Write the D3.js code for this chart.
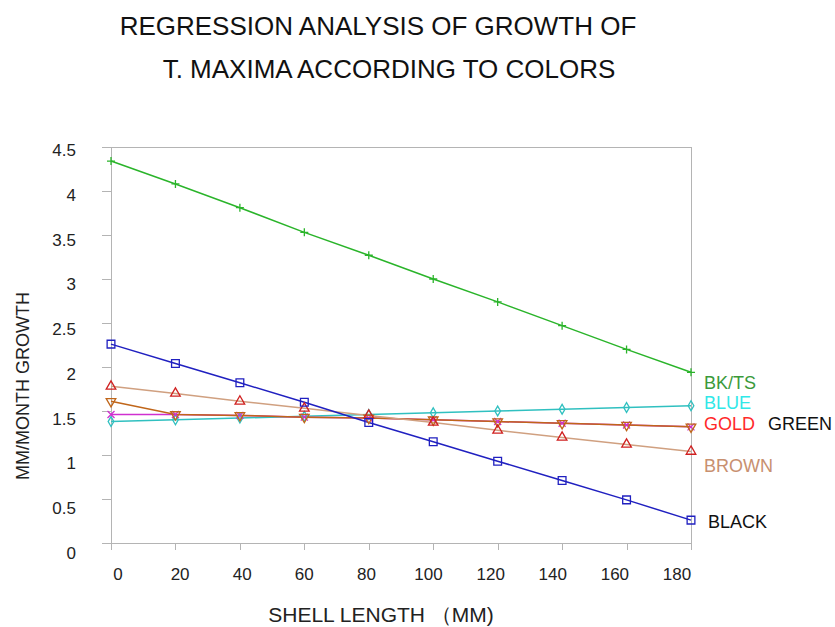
<!DOCTYPE html>
<html lang="en">
<head>
<meta charset="UTF-8">
<title>Regression analysis</title>
<style>
body { margin: 0; background: #fff; }
text { font-family: "Liberation Sans", Arial, sans-serif; }
.frame line, .axis path, .axis line { stroke: #b4b4b4; fill: none; shape-rendering: crispEdges; }
.tick-label { font-size: 17px; fill: #222; }
</style>
</head>
<body>
<script src="https://cdn.jsdelivr.net/npm/d3@7"></script>
<script>
// shell length (mm)
var xValues = [0, 20, 40, 60, 80, 100, 120, 140, 160, 180];
// mm/month growth
var bktsVals  = [4.34, 4.08, 3.81, 3.53, 3.27, 3.00, 2.74, 2.47, 2.20, 1.94];
var blueVals  = [1.38, 1.40, 1.42, 1.44, 1.46, 1.48, 1.50, 1.52, 1.54, 1.56];
var goldVals  = [1.61, 1.46, 1.45, 1.43, 1.42, 1.40, 1.38, 1.36, 1.34, 1.32];
var greenVals = [1.46, 1.46, 1.45, 1.43, 1.42, 1.40, 1.38, 1.36, 1.34, 1.32];
var brownVals = [1.78, 1.70, 1.61, 1.53, 1.45, 1.37, 1.28, 1.20, 1.12, 1.04];
var blackVals = [2.26, 2.04, 1.82, 1.60, 1.37, 1.15, 0.93, 0.71, 0.49, 0.26];

var yTicks = [0, 0.5, 1, 1.5, 2, 2.5, 3, 3.5, 4, 4.5];
var xTicks = [0, 20, 40, 60, 80, 100, 120, 140, 160, 180];

var legendNames = ["BK/TS", "BLUE", "GOLD", "GREEN", "BROWN", "BLACK"];
var legendAt    = [1.82, 1.59, 1.35, 1.35, 0.88, 0.24];

var W = 835, H = 627;
var pLeft = 111, pRight = 691, pTop = 147, pBottom = 543;

var svg = d3.select("body").append("svg").attr("width", W).attr("height", H);

var x = d3.scaleLinear().domain([0, 180]).range([pLeft, pRight]);
var y = d3.scaleLinear().domain([0, 4.5]).range([pBottom, pTop]);
// tick labels sit a little off the ticks in the original
var xLab = d3.scaleLinear().domain([0, 180]).range([118, 677]);
var yLab = d3.scaleLinear().domain([0, 4.5]).range([553, 150]);

// title
svg.append("text").attr("x", 378).attr("y", 35).attr("text-anchor", "middle")
  .style("font-size", "26px").attr("fill", "#111").text("REGRESSION ANALYSIS OF GROWTH OF");
svg.append("text").attr("x", 389).attr("y", 78).attr("text-anchor", "middle")
  .style("font-size", "26px").attr("fill", "#111").text("T. MAXIMA ACCORDING TO COLORS");

// frame
var frame = svg.append("g").attr("class", "frame");
frame.append("line").attr("x1", pLeft - 9).attr("x2", pRight).attr("y1", pTop).attr("y2", pTop);
frame.append("line").attr("x1", pRight).attr("x2", pRight).attr("y1", pTop).attr("y2", pBottom);

// axes
svg.append("g").attr("class", "axis")
  .attr("transform", "translate(" + pLeft + ",0)")
  .call(d3.axisLeft(y).tickValues(yTicks).tickSize(9).tickSizeOuter(0).tickFormat(""));
svg.append("g").attr("class", "axis")
  .attr("transform", "translate(0," + pBottom + ")")
  .call(d3.axisBottom(x).tickValues(xTicks).tickSize(7).tickSizeOuter(0).tickFormat(""));
frame.append("line").attr("x1", pLeft - 9).attr("x2", pLeft).attr("y1", pBottom).attr("y2", pBottom);

svg.selectAll(".ylab").data(yTicks).enter().append("text")
  .attr("class", "tick-label").attr("text-anchor", "end")
  .attr("x", 76).attr("y", function(d) { return yLab(d) + 6; })
  .text(function(d) { return d; });
svg.selectAll(".xlab").data(xTicks).enter().append("text")
  .attr("class", "tick-label").attr("text-anchor", "middle")
  .attr("x", function(d) { return xLab(d); }).attr("y", 580)
  .text(function(d) { return d; });

// axis titles
svg.append("text").attr("transform", "translate(29,386) rotate(-90)")
  .attr("text-anchor", "middle").style("font-size", "18px").attr("fill", "#222")
  .text("MM/MONTH GROWTH");
svg.append("text").attr("x", 381).attr("y", 622).attr("text-anchor", "middle")
  .style("font-size", "21px").attr("fill", "#222").text("SHELL LENGTH \uFF08MM)");

// series
var series = [
  { vals: blueVals,  line: "#30c0c0", mark: "#30c0c0", sym: d3.symbolDiamond, size: 28 },
  { vals: greenVals, line: "#d030d0", mark: "#d030d0", sym: d3.symbolCross,   size: 22 },
  { vals: goldVals,  line: "#c0661a", mark: "#c0661a", sym: d3.symbolTriangle, size: 40, rot: 180 },
  { vals: brownVals, line: "#d0a080", mark: "#d02020", sym: d3.symbolTriangle, size: 40 },
  { vals: blackVals, line: "#2020c0", mark: "#2020c0", sym: d3.symbolSquare, size: 60 },
  { vals: bktsVals,  line: "#2ab42a", mark: "#2ab42a", sym: d3.symbolCross,   size: 30, plus: true }
];

var line = d3.line()
  .x(function(d, i) { return x(xValues[i]); })
  .y(function(d) { return y(d); });

series.forEach(function(s) {
  svg.append("path").attr("d", line(s.vals))
    .attr("fill", "none").attr("stroke", s.line).attr("stroke-width", 1.5);
});
series.forEach(function(s) {
  var g = svg.append("g");
  var shape;
  if (s.plus) shape = "M-4,0H4M0,-4V4";
  else if (s.sym === d3.symbolCross) shape = "M-3.5,-3.5L3.5,3.5M-3.5,3.5L3.5,-3.5";
  else shape = d3.symbol().type(s.sym).size(s.size)();
  g.selectAll("path").data(s.vals).enter().append("path")
    .attr("transform", function(d, i) {
      return "translate(" + x(xValues[i]) + "," + y(d) + ")" + (s.rot ? " rotate(" + s.rot + ")" : "");
    })
    .attr("d", shape)
    .attr("fill", "none").attr("stroke", s.mark).attr("stroke-width", 1.3);
});

// end labels
var legendColors = ["#3a9a3a", "#30e8e8", "#ff2a2a", "#111", "#c89070", "#111"];
var legendX = [704, 704, 704, 768, 704, 708];
svg.selectAll(".leg").data(legendNames).enter().append("text")
  .attr("x", function(d, i) { return legendX[i]; })
  .attr("y", function(d, i) { return y(legendAt[i]) + 6; })
  .style("font-size", "18px")
  .attr("fill", function(d, i) { return legendColors[i]; })
  .text(function(d) { return d; });
</script>
</body>
</html>
